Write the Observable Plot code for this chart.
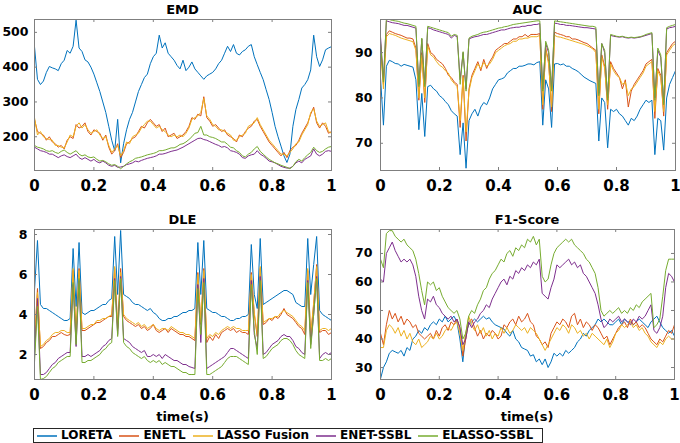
<!DOCTYPE html>
<html>
<head>
<meta charset="utf-8">
<script src="https://cdn.jsdelivr.net/npm/d3@7"></script>
<script src="https://cdn.jsdelivr.net/npm/@observablehq/plot@0.6"></script>
<style>
html, body { margin: 0; padding: 0; background: #fff; }
#fig { position: relative; width: 680px; height: 443px; overflow: hidden; font-family: "DejaVu Sans", sans-serif; font-weight: bold; color: #000; }
.panel { position: absolute; }
.panel svg { font-weight: bold; }
.panel g[aria-label="x-axis tick label"] { font-size: 15px; }
.panel g[aria-label="y-axis tick label"] { font-size: 12.5px; }
.title, .xlabel { position: absolute; font-size: 13px; line-height: 13px; text-align: center; white-space: nowrap; }
#legend { position: absolute; left: 33px; top: 428px; width: 505px; height: 13px; border: 1px solid #262626; display: flex; align-items: center; font-size: 12px; line-height: 13px; padding-left: 3px; box-sizing: content-box; background: #fff; }
#legend .item { display: flex; align-items: center; margin-right: 7px; white-space: nowrap; flex: none; }
#legend svg.swatch { display: block; flex: none; margin-right: 4px; }
</style>
</head>
<body>
<div id="fig"></div>
<script>
// ---- data ----
const names = ["LORETA", "ENETL", "LASSO Fusion", "ENET-SSBL", "ELASSO-SSBL"];
const colors = ["#0072BD", "#D95319", "#EDB120", "#7E2F8E", "#77AC30"];
const time = d3.range(101).map(i => i / 100);
const xTicks = [0, 0.2, 0.4, 0.6, 0.8, 1];

// EMD
const emdLORETA = [459,365,350,360,385,402,398,395,390,410,420,
  448,440,460,535,455,445,421,415,400,380,
  355,330,300,270,230,190,160,250,125,180,
  220,250,270,300,330,350,370,380,410,430,
  440,492,455,470,440,430,420,405,395,420,
  390,400,415,395,385,375,365,375,380,385,
  395,410,420,440,460,445,465,440,435,445,
  450,460,465,430,407,385,364,335,307,270,
  230,200,173,145,126,150,230,278,307,340,
  350,364,392,492,430,402,421,450,455,459];
const emdENETL = [250,215,210,205,190,200,185,180,170,175,165,
  190,200,195,235,225,230,240,215,205,220,
  215,210,190,205,170,150,160,180,140,155,
  180,185,195,200,215,230,225,240,250,240,
  230,235,215,225,200,205,210,195,200,205,
  215,230,255,250,265,260,315,255,245,230,
  235,225,215,220,205,200,195,185,205,200,
  215,225,230,245,250,230,215,200,185,175,
  165,155,145,155,140,160,170,175,190,210,
  225,240,265,285,240,225,240,230,210,215];
const emdLASSO = [255,205,215,200,195,192,190,175,175,170,168,
  185,205,200,230,240,225,235,220,210,215,
  220,205,195,200,175,155,165,175,145,160,
  185,180,200,205,210,225,235,245,245,235,
  225,230,220,215,205,200,205,200,205,200,
  210,225,250,255,260,270,310,260,250,235,
  230,220,220,215,210,205,190,190,200,205,
  210,230,235,240,255,235,220,205,190,180,
  170,160,150,150,145,155,165,180,185,205,
  220,235,270,280,245,230,235,240,215,210];
const emdENET = [170,165,160,158,155,150,150,145,140,145,148,
  143,140,145,150,140,135,140,135,130,135,
  128,125,130,125,118,115,118,112,113,115,
  120,122,125,130,128,132,135,138,140,142,
  145,150,150,152,155,158,160,162,166,170,
  175,180,185,190,195,196,192,190,186,182,
  178,175,170,172,168,160,158,155,150,140,
  138,145,148,150,160,150,145,138,130,128,
  125,120,115,112,110,110,115,125,130,125,
  135,140,145,165,150,145,150,158,160,158];
const emdELASSO = [175,170,168,165,160,158,160,155,152,158,162,
  155,150,155,160,150,145,148,142,140,142,
  135,130,132,128,122,118,120,115,108,115,
  122,128,132,138,140,142,145,148,150,152,
  155,160,160,162,165,168,168,172,178,180,
  185,192,200,210,212,230,205,205,200,198,
  195,190,185,185,178,170,168,160,155,145,
  142,150,155,165,172,158,150,142,135,130,
  125,122,118,115,112,108,115,128,135,130,
  140,148,155,170,160,155,158,165,170,172];
const emdTicks = [200, 300, 400, 500];

// AUC
const aucLORETA = [84.5,74,87,88.3,88,87.6,87.5,87,87.4,87.2,87,
  86.8,84,73,81,71.5,82.5,82.8,82,81.5,80.5,
  80,79.2,78.5,77.2,76.5,76,67.5,74.5,64.5,75,
  76.5,77.5,76,78,79,78.5,80,82,83,84,
  84.2,84.5,85.5,86,86.5,86.5,87,87,87.2,87.5,
  87.5,87.3,87.8,88,74,84,82,73.5,87.5,87.6,
  87.3,87.5,87,87,86.5,86.2,85.8,85.2,84.6,84.2,
  83.8,83.5,83.2,70.5,80,79,69,77.5,77,77.5,
  76.5,76,75,74,75.5,75,76,77.5,78.5,79.5,
  79,79.5,67.5,75.5,75,68.5,80,83,84.5,86];
const aucENETL = [92,83,94,94.8,94.5,94.2,94,93.8,93.5,93.2,93.2,
  93,91,79.5,90,79,92,90,89.5,88.5,88,
  87.5,86.5,85,84.5,83.5,83,73.5,85,70.5,82,
  85,86.5,88,86,88.5,86.5,88,89,90.5,91,
  91.5,92,92,92.5,93,93,93.5,93.5,94,93.5,
  94,94,94,94.2,77.5,91,88,77,94.5,94.2,
  94,93.8,93.5,93.5,93,93,92.8,92.5,92.2,92,
  91.5,91,90.5,76.5,89.5,87,77.5,88,86.5,85.5,
  84.5,82,84,78,81.5,83,84,85,86,87.5,
  88,88.5,75.5,86.5,85,76,90,91,92,92.5];
const aucLASSO = [91,82,93.5,94.2,94,93.8,93.5,93.2,93,92.8,92.6,
  92.4,90.5,80,89.5,80,91.5,89.5,89,88,87.2,
  86.8,86,85.5,84,83.2,82.5,75,84.5,72.5,81.5,
  84.5,86,87.5,86.5,87.8,87,87.5,88.5,90,90.5,
  91,91.5,91.8,92,92.5,92.5,93,93,93.2,93.2,
  93.5,93.5,93.5,93.8,78.5,90.5,87.5,78,93.8,93.5,
  93.4,93.2,93,92.8,92.6,92.4,92.2,92,91.8,91.5,
  91.2,90.8,90,77.5,89,86.5,78.5,87.5,86,85,
  84.5,83,83.5,80.5,82,82.5,83.5,84.5,85.5,87,
  87.5,88,77,86,84.5,77,89.5,90.5,91.5,92];
const aucENET = [93.5,84,97,96.8,96.6,96.5,96.4,96.2,96,96,95.8,
  95.6,95.4,83,93,83,95.5,95.3,95,94.8,94.6,
  94.4,94.2,94,93.2,93.8,93.5,84,90,82,93,
  93.3,93.5,93.6,93.8,94,94,94.2,94.4,94.6,94.8,
  95,95,95.2,95.4,95.5,95.6,95.6,95.8,95.8,96,
  96,96.2,96.2,96.4,82,92,90,82,96.5,96.4,
  96.2,96.2,96,96,95.9,95.8,95.7,95.6,95.5,95.5,
  95.4,95.3,95.2,81,92,90,80,93.8,93.6,93.5,
  93.4,93.5,93.3,93.2,93.3,93.2,93.3,93.4,93.6,93.8,
  94,94.2,80,90.5,89,79,95.2,95.5,95.6,95.8];
const aucELASSO = [92.5,83.5,97.5,97.3,97.1,97,96.9,96.7,96.5,96.4,96.2,
  96,95.8,82.5,93.2,82.5,95.8,95.6,95.4,95.2,95,
  94.8,94.6,94.4,93.6,94,93.8,83,90.2,81.5,93.2,
  93.6,93.8,94,94.3,94.5,94.6,94.8,95,95.2,95.4,
  95.5,95.7,95.8,96,96.2,96.3,96.4,96.5,96.6,96.7,
  96.8,96.9,97,97,81.5,92.5,90.5,81.5,97,96.9,
  96.8,96.7,96.6,96.5,96.4,96.3,96.2,96.1,96,95.9,
  95.8,95.8,95.6,80.5,92,90.5,79.5,94,93.8,93.6,
  93.5,93.6,93.4,93.3,93.4,93.3,93.4,93.5,93.7,94,
  94.2,94.4,79.5,91,89.5,78.5,95.5,95.8,96,96.2];
const aucTicks = [70, 80, 90];

// DLE
const dleLORETA = [5.2,7.7,4.5,4.3,4.3,4.2,4.1,4.0,3.9,3.8,3.7,
  3.7,3.8,7.3,4.4,7.6,4.1,4.0,4.1,4.2,4.2,
  4.3,4.4,4.5,4.5,4.7,4.8,7.9,5.0,8.2,5.0,
  4.9,4.8,4.6,4.5,4.5,4.4,4.3,4.2,4.3,4.1,
  4.0,3.8,3.7,3.7,3.8,3.8,3.9,3.9,4.0,4.1,
  4.1,4.2,4.2,4.3,7.6,5.0,7.7,4.3,4.2,4.1,
  4.1,4.0,3.9,3.9,3.8,3.7,3.7,3.8,3.8,3.9,
  3.9,4.0,7.5,5.0,4.3,7.8,4.5,4.6,4.7,4.8,
  4.9,5.0,5.1,5.2,5.2,5.1,5.0,4.6,4.5,4.4,
  4.4,7.8,5.0,6.5,7.9,4.2,4.0,3.9,3.8,3.7];
const dleENETL = [2.6,5.3,2.3,2.4,2.6,2.7,2.9,2.9,3.0,3.1,3.0,
  2.95,3.0,6.2,3.0,6.3,3.2,3.2,3.3,3.4,3.5,
  3.6,3.6,3.7,3.8,3.9,3.9,6.3,3.3,6.3,3.9,
  3.7,3.6,3.5,3.4,3.5,3.3,3.4,3.2,3.3,3.5,
  3.2,3.1,3.2,3.3,3.1,3.3,3.2,3.1,3.0,3.0,
  2.9,2.9,2.8,2.7,6.1,3.5,6.3,2.6,2.9,2.7,
  3.0,2.8,3.1,3.2,3.3,3.2,3.3,3.1,3.2,3.1,
  3.1,3.0,6.1,4.0,2.9,6.3,3.5,3.6,3.8,3.7,
  3.9,3.8,4.0,4.3,4.0,3.9,3.8,3.6,3.4,3.3,
  3.0,6.2,2.9,4.5,6.5,3.1,3.2,3.2,3.0,3.1];
const dleLASSO = [2.7,5.1,2.4,2.5,2.7,2.8,3.0,3.1,3.1,3.2,3.2,
  3.1,3.1,6.3,3.0,6.2,3.3,3.3,3.4,3.5,3.5,
  3.7,3.7,3.8,3.8,3.9,4.0,6.4,3.4,6.1,4.0,
  3.8,3.7,3.6,3.5,3.6,3.4,3.5,3.3,3.4,3.5,
  3.3,3.2,3.3,3.3,3.2,3.4,3.3,3.2,3.1,3.1,
  3.0,3.0,2.9,2.8,6.0,3.6,6.2,2.8,3.0,2.9,
  3.1,3.0,3.2,3.3,3.4,3.3,3.4,3.3,3.3,3.2,
  3.2,3.2,6.0,4.1,3.0,6.4,3.6,3.7,3.8,3.8,
  3.9,3.9,4.1,4.2,4.1,4.0,3.9,3.7,3.5,3.4,
  3.2,6.3,3.0,4.6,6.4,3.2,3.3,3.3,3.2,3.3];
const dleENET = [1.9,4.8,1.0,1.0,1.1,1.3,1.5,1.6,1.8,1.9,2.0,
  2.1,2.1,5.5,2.4,5.7,1.9,1.9,2.0,1.9,2.0,
  2.1,2.2,2.4,2.5,2.7,2.8,5.8,3.0,5.9,2.8,
  2.7,2.6,2.4,2.3,2.2,2.1,2.2,1.9,1.9,2.0,
  1.9,2.0,1.8,2.0,1.9,1.8,1.7,1.7,1.6,1.5,
  1.5,1.4,1.35,1.3,5.5,2.6,5.8,1.3,1.4,1.5,
  1.6,1.7,1.8,1.9,2.1,2.3,2.3,2.2,2.1,2.0,
  1.9,1.8,5.7,3.0,2.3,5.9,2.0,2.1,2.3,2.5,
  2.6,2.7,2.9,3.0,2.9,2.9,2.7,2.4,2.3,2.1,
  2.0,5.7,2.5,4.0,5.9,1.8,2.0,2.1,2.0,2.1];
const dleELASSO = [1.6,4.4,0.75,0.8,0.9,1.1,1.3,1.4,1.6,1.7,1.8,
  1.9,1.9,5.6,2.5,5.8,1.6,1.6,1.7,1.7,1.8,
  1.9,2.0,2.2,2.3,2.5,2.6,5.7,2.9,5.8,2.6,
  2.4,2.3,2.1,2.0,1.9,1.8,1.9,1.7,1.6,1.7,
  1.6,1.7,1.5,1.6,1.5,1.4,1.4,1.3,1.2,1.1,
  1.1,1.0,1.0,1.0,5.3,3.0,5.6,1.0,1.0,1.1,
  1.2,1.3,1.4,1.6,1.8,1.9,1.9,1.9,1.8,1.7,
  1.6,1.5,5.5,3.2,2.0,5.7,1.8,1.9,2.1,2.3,
  2.4,2.5,2.7,2.8,2.8,2.7,2.5,2.2,2.0,1.9,
  1.8,5.6,2.3,4.0,5.8,1.7,1.7,1.8,1.7,1.8];
const dleTicks = [2, 4, 6, 8];

// F1-Score
const f1LORETA = [26,30,32,35,36,35.5,35,36,34,37,36,
  40,41,43,42,44,43,45,46,45,47,
  46,48,46,47,48,46,40,32,42,45,
  46,47,46,47,48,47,47.5,46,45,44.5,
  44,43.5,42,41,43,40,39,37,36.5,36,
  34,34.5,32,33,31,33,30,32,35,34,
  35,34,36,35,36,37,39,40,42,41,
  43,44,45,47,46,47,46,45,45,46,
  47,45,47,46,46,45,46,47,46,45,
  44,46,47,48,46,44,43,42,43,41];
const f1ENETL = [42,38,45,50,47,49,46,48,45,47,46,
  44,45,42,41,40,41,42,40,43,41,
  44,45,43,46,45,47,44,34,40,46,
  47,44,41,43,40,42,41,43,42,40,
  41,45,44,46,47,45,48,46,47,49,
  46,45,41,40,38,39,37,42,44,46,
  45,47,46,44,48,49,45,47,44,46,
  45,43,45,44,42,40,41,38,40,42,
  44,45,46,44,47,45,46,44,45,44,
  42,40,39,38,40,39,41,43,42,45];
const f1LASSO = [37,37,43,45,44,42,44,41,43,40,42,
  39,38,40,37,38,39,41,40,42,40,
  41,43,44,43,45,46,42,36,42,48,
  45,43,45,42,44,41,43,40,42,41,
  44,42,44,42,43,45,44,43,44,42,
  44,43,42,40,38,36,38,40,42,44,
  43,45,44,42,45,44,42,43,41,42,
  40,42,41,40,39,38,40,37,39,42,
  43,45,44,45,46,44,45,43,44,42,
  41,39,38,37,39,38,40,41,40,40];
const f1ENET = [61,60,70,72,74,71,69,67,68,67,68,
  66,62,55,50,47,54,53,55,52,51,
  49,48,47,48,46,47,44,38,40,46,
  44,46,47,49,50,52,51,54,56,58,
  60,61,59,62,61,64,63,65,64,66,
  65,67,66,68,56,55,54,58,61,66,
  65,66,67,68,66,67,65,66,63,62,
  60,58,56,52,47,44,45,47,46,47,
  48,46,47,46,45,47,46,48,47,48,
  50,52,43,42,44,48,58,63,62,60];
const f1ELASSO = [68,65,77,78,78,76,75,74,75,73,72,
  71,68,63,57,52,60,59,60,57,58,
  55,53,51,50,49,50,47,40,42,48,
  50,49,52,54,57,58,61,63,64,66,
  68,67,70,71,69,72,71,73,72,75,
  74,76,73,75,62,60,61,66,70,72,
  73,74,75,74,75,73,72,71,70,68,
  67,65,63,58,50,48,49,50,49,50,
  51,49,50,49,51,50,52,51,53,54,
  55,56,44,45,47,55,64,68,68,68];
const f1Ticks = [30, 40, 50, 60, 70];

// ---- drawing ----
const axisColor = "#7f7f7f";
const fig = document.getElementById("fig");

function addPanel(cfg) {
  const {left, top, width, height, m, title, series, yDomain, yTicks, yPad, xLabel} = cfg;
  const fw = width - m.l - m.r, fh = height - m.t - m.b;
  const data = series.flatMap((vals, k) => vals.map((v, i) => ({t: time[i], v, s: names[k]})));
  const chart = Plot.plot({
    width, height,
    marginLeft: m.l, marginRight: m.r, marginTop: m.t, marginBottom: m.b,
    style: {fontFamily: "DejaVu Sans, sans-serif", fontWeight: "bold", color: "#000", background: "transparent", overflow: "visible"},
    x: {domain: [0, 1]},
    y: {domain: yDomain},
    color: {domain: names, range: colors},
    marks: [
      Plot.line(data, {x: "t", y: "v", z: "s", stroke: "s", strokeWidth: 1, clip: true}),
      Plot.tickX(xTicks, {x: d => d, insetTop: fh - 3, stroke: axisColor}),
      Plot.tickX(xTicks, {x: d => d, insetBottom: fh - 3, stroke: axisColor}),
      Plot.tickY(yTicks, {y: d => d, insetRight: fw - 3, stroke: axisColor}),
      Plot.tickY(yTicks, {y: d => d, insetLeft: fw - 3, stroke: axisColor}),
      Plot.frame({stroke: axisColor}),
      Plot.axisX(xTicks, {tickSize: 0, tickPadding: 10, fontSize: 15, tickFormat: d => String(d), label: null}),
      Plot.axisY(yTicks, {tickSize: 0, tickPadding: yPad, fontSize: 12.5, tickFormat: d => String(d), label: null})
    ]
  });
  const wrap = document.createElement("div");
  wrap.className = "panel";
  wrap.style.left = left + "px";
  wrap.style.top = top + "px";
  wrap.appendChild(chart);
  fig.appendChild(wrap);

  const t = document.createElement("div");
  t.className = "title";
  t.textContent = title;
  t.style.left = (left + m.l) + "px";
  t.style.width = fw + "px";
  t.style.top = (top + m.t - 16.5) + "px";
  fig.appendChild(t);

  if (xLabel) {
    const xl = document.createElement("div");
    xl.className = "xlabel";
    xl.textContent = xLabel;
    xl.style.left = (left + m.l) + "px";
    xl.style.width = fw + "px";
    xl.style.top = (top + height - m.b + 31) + "px";
    fig.appendChild(xl);
  }
}

addPanel({left: 0, top: 0, width: 340, height: 200, m: {l: 34, r: 9, t: 19, b: 30}, title: "EMD",
  series: [emdLORETA, emdENETL, emdLASSO, emdENET, emdELASSO], yDomain: [103, 537], yTicks: emdTicks, yPad: 6});
addPanel({left: 340, top: 0, width: 340, height: 200, m: {l: 40, r: 5, t: 19, b: 30}, title: "AUC",
  series: [aucLORETA, aucENETL, aucLASSO, aucENET, aucELASSO], yDomain: [64, 97.3], yTicks: aucTicks, yPad: 8});
addPanel({left: 0, top: 210, width: 340, height: 200, m: {l: 34, r: 9, t: 19, b: 31}, title: "DLE",
  series: [dleLORETA, dleENETL, dleLASSO, dleENET, dleELASSO], yDomain: [0.75, 8.25], yTicks: dleTicks, yPad: 7, xLabel: "time(s)"});
addPanel({left: 340, top: 210, width: 340, height: 200, m: {l: 40, r: 6, t: 19, b: 31}, title: "F1-Score",
  series: [f1LORETA, f1ENETL, f1LASSO, f1ENET, f1ELASSO], yDomain: [25.8, 78.4], yTicks: f1Ticks, yPad: 8, xLabel: "time(s)"});

// legend
const NS = "http://www.w3.org/2000/svg";
const legend = document.createElement("div");
legend.id = "legend";
names.forEach((n, i) => {
  const item = document.createElement("div");
  item.className = "item";
  const sw = document.createElementNS(NS, "svg");
  sw.setAttribute("class", "swatch");
  sw.setAttribute("width", "20");
  sw.setAttribute("height", "4");
  const ln = document.createElementNS(NS, "line");
  ln.setAttribute("x1", "0");
  ln.setAttribute("x2", "20");
  ln.setAttribute("y1", "2");
  ln.setAttribute("y2", "2");
  ln.setAttribute("stroke", colors[i]);
  ln.setAttribute("stroke-width", "1.5");
  sw.appendChild(ln);
  const tx = document.createElement("span");
  tx.textContent = n;
  item.appendChild(sw);
  item.appendChild(tx);
  legend.appendChild(item);
});
fig.appendChild(legend);
</script>
</body>
</html>
